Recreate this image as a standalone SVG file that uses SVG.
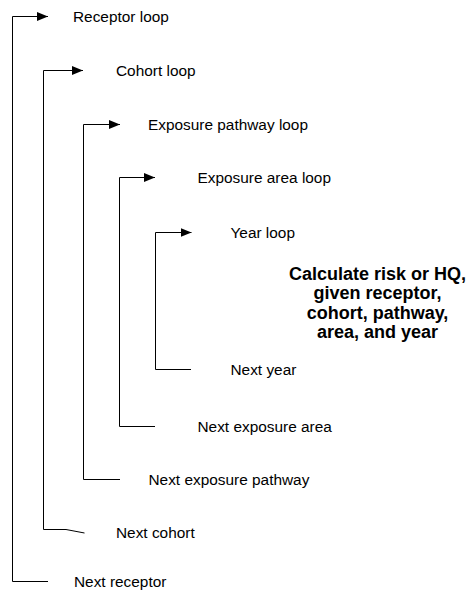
<svg xmlns="http://www.w3.org/2000/svg" width="468" height="597" viewBox="0 0 468 597">
<style>
.t{font-family:"Liberation Sans",Arial,sans-serif;font-size:15.4px;fill:#000}
.b{font-family:"Liberation Sans",Arial,sans-serif;font-size:18px;font-weight:bold;fill:#000;text-anchor:middle}
.c{fill:none;stroke:#000;stroke-width:1}
</style>
<defs>
<marker id="ah" markerWidth="12" markerHeight="9" refX="11" refY="4.5" orient="auto" markerUnits="userSpaceOnUse">
<path d="M0,0 L11,4.5 L0,9 Z" fill="#000"/>
</marker>
</defs>
<rect width="468" height="597" fill="#fff"/>
<g id="connectors">
<path class="c" d="M48,581.5 H12.5 V16.5 H48" marker-end="url(#ah)"/>
<path class="c" d="M84.5,533 L66,529.5 H43.5 V70.5 H83" marker-end="url(#ah)"/>
<path class="c" d="M120,479.5 H83.5 V124.5 H120" marker-end="url(#ah)"/>
<path class="c" d="M155,426.5 H119.5 V177.5 H155" marker-end="url(#ah)"/>
<path class="c" d="M191,369.5 H155.5 V232.5 H191.5" marker-end="url(#ah)"/>
</g>
<g id="receptor-loop"><text class="t" x="73" y="21.5">Receptor loop</text></g>
<g id="cohort-loop"><text class="t" x="116" y="75.5">Cohort loop</text></g>
<g id="pathway-loop"><text class="t" x="148" y="129.5">Exposure pathway loop</text></g>
<g id="area-loop"><text class="t" x="197.5" y="182.5">Exposure area loop</text></g>
<g id="year-loop"><text class="t" x="230.5" y="237.5">Year loop</text></g>
<g id="calculate">
<text class="b" x="377.5" y="280">Calculate risk or HQ,</text>
<text class="b" x="377.5" y="299.3">given receptor,</text>
<text class="b" x="377.5" y="318.6">cohort, pathway,</text>
<text class="b" x="377.5" y="337.9">area, and year</text>
</g>
<g id="next-year"><text class="t" x="230.5" y="374.5">Next year</text></g>
<g id="next-area"><text class="t" x="197.5" y="431.5">Next exposure area</text></g>
<g id="next-pathway"><text class="t" x="148.5" y="484.5">Next exposure pathway</text></g>
<g id="next-cohort"><text class="t" x="116" y="537.5">Next cohort</text></g>
<g id="next-receptor"><text class="t" x="74" y="586.5">Next receptor</text></g>
</svg>
